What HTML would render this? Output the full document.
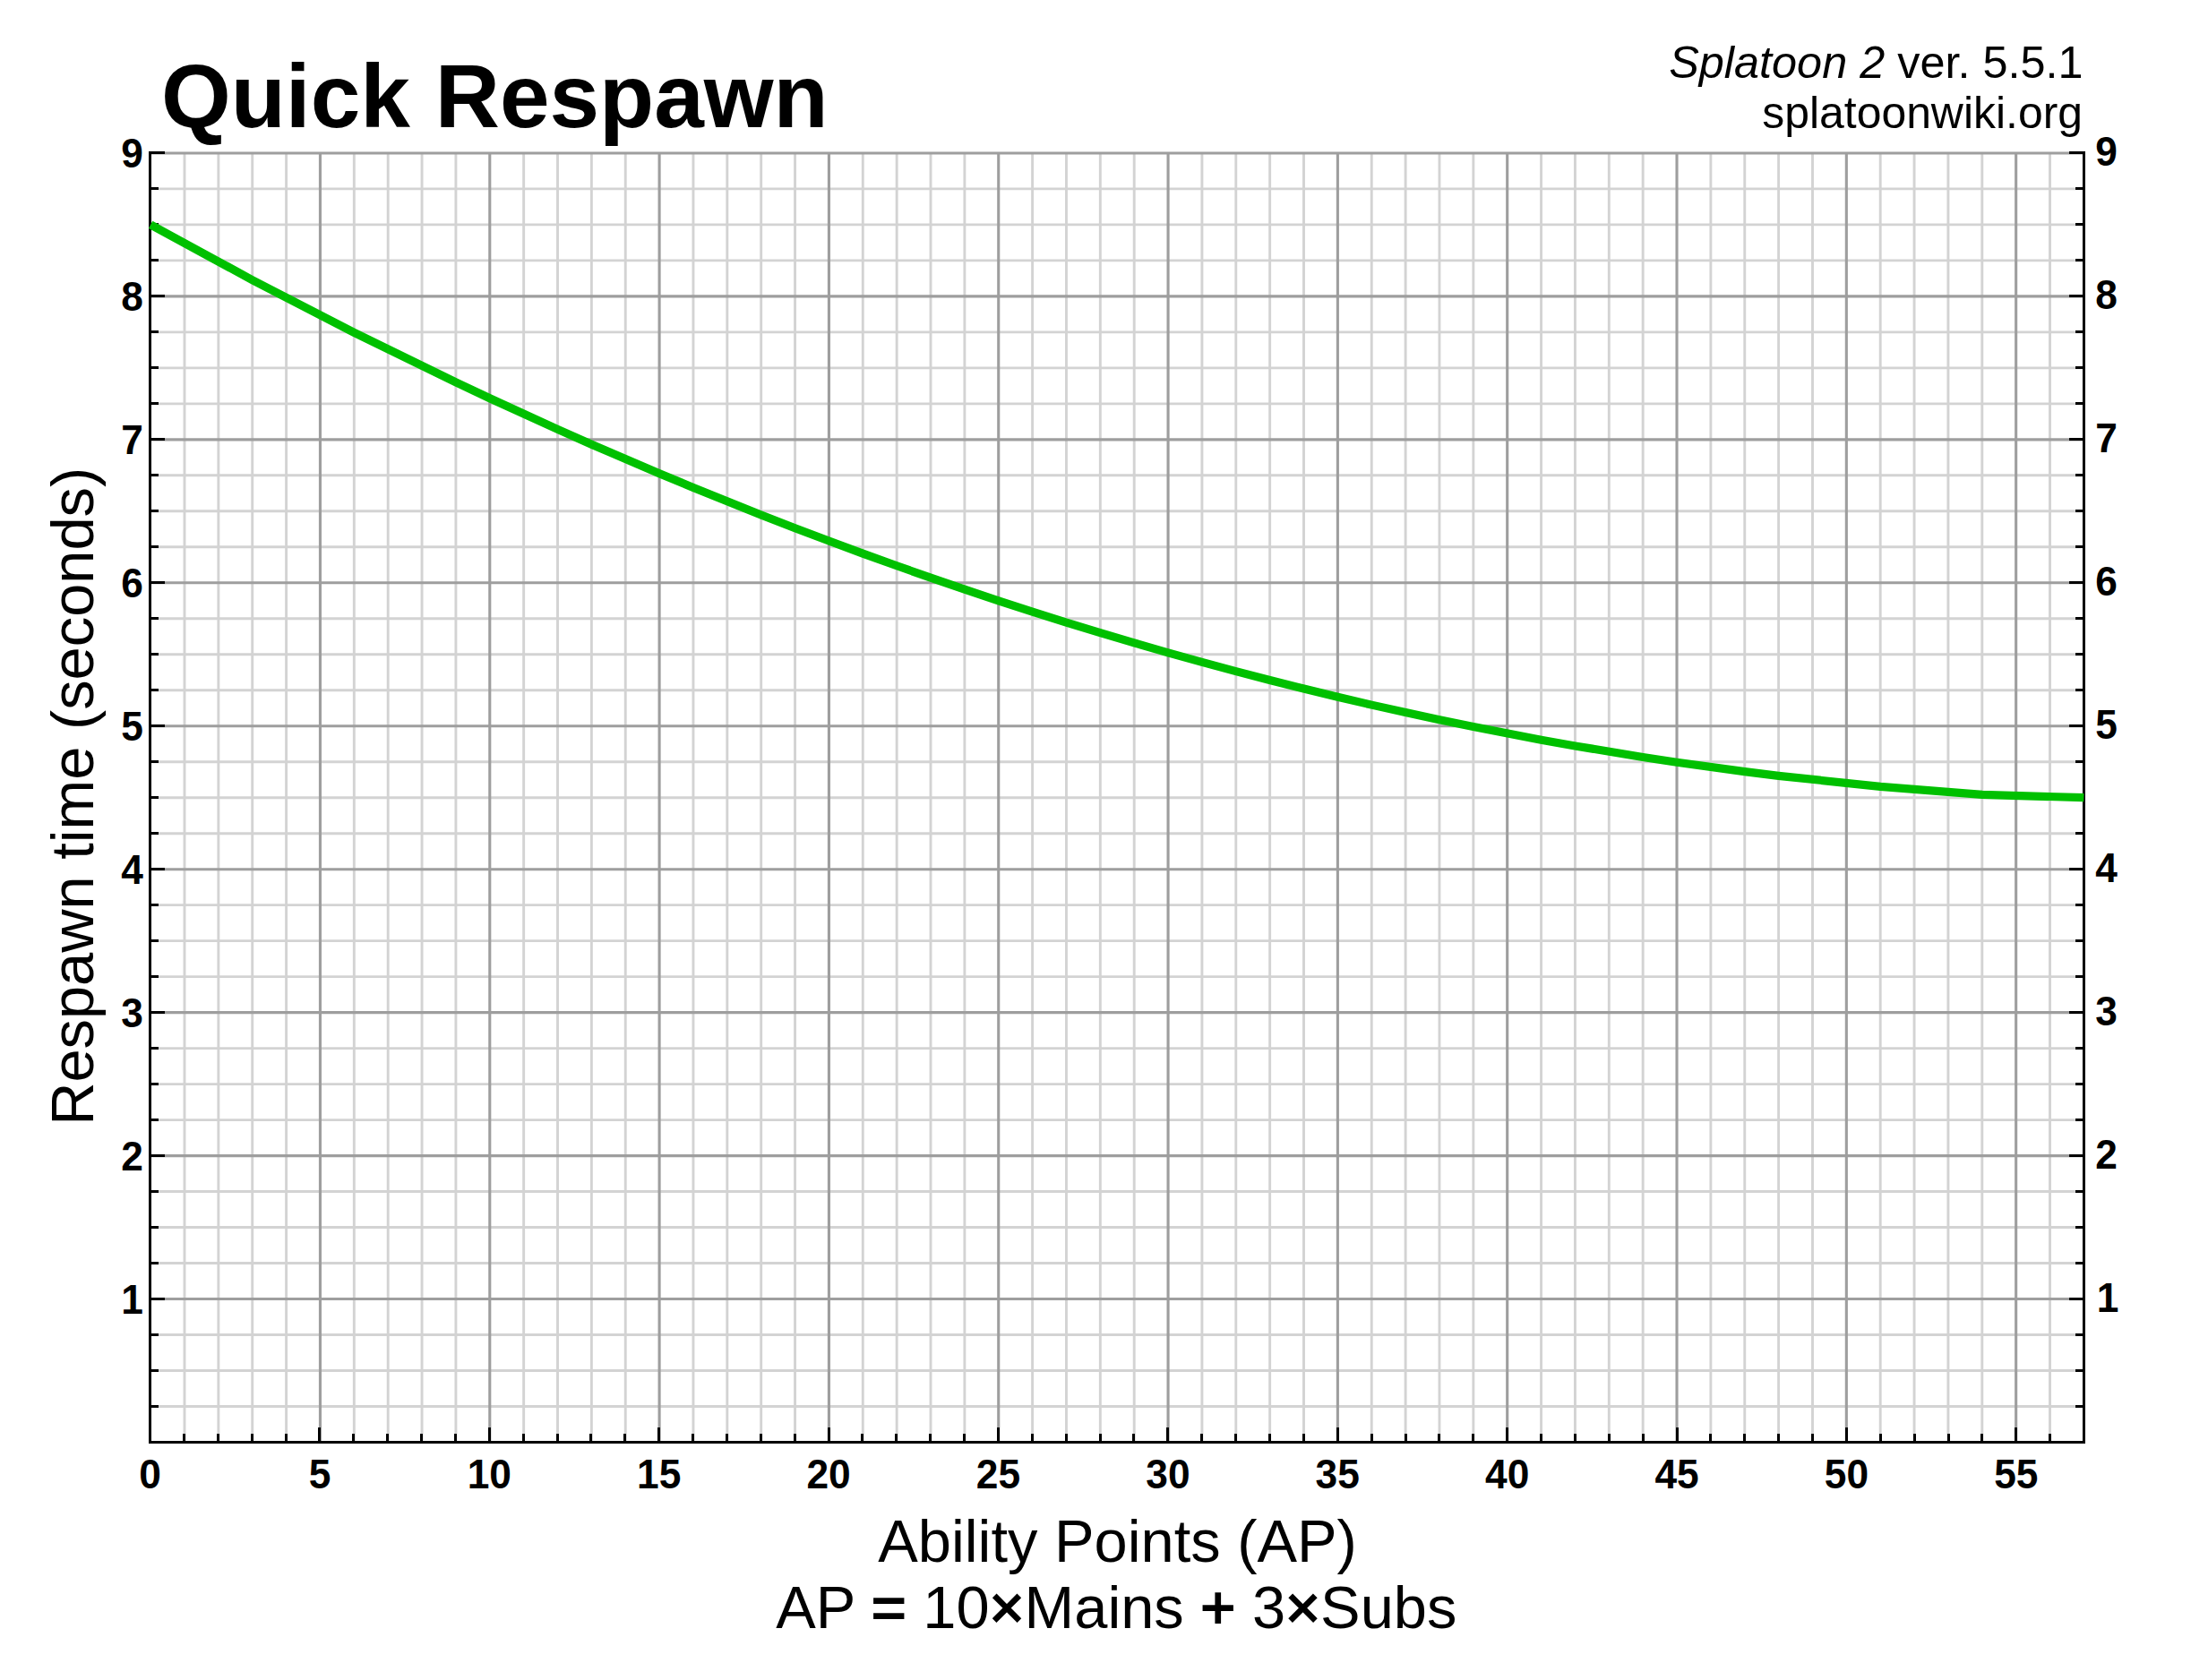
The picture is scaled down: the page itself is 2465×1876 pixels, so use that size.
<!DOCTYPE html>
<html lang="en"><head><meta charset="utf-8"><title>Quick Respawn</title>
<style>
html,body{margin:0;padding:0;background:#fff}
body{width:2465px;height:1876px;overflow:hidden}
svg{display:block}
text{font-family:"Liberation Sans",sans-serif;fill:#000}
.t{font-weight:bold;font-size:44.3px}
.l{font-size:66.8px}
.c{font-size:49.5px}
.h{stroke:#000;stroke-width:1.9px;stroke-linejoin:miter}
</style></head><body>
<svg width="2465" height="1876" viewBox="0 0 2465 1876">
<rect width="2465" height="1876" fill="#fff"/>
<path d="M206 170.5V1610.45M243.87 170.5V1610.45M281.73 170.5V1610.45M319.6 170.5V1610.45M395.32 170.5V1610.45M433.19 170.5V1610.45M471.05 170.5V1610.45M508.92 170.5V1610.45M584.64 170.5V1610.45M622.51 170.5V1610.45M660.37 170.5V1610.45M698.24 170.5V1610.45M773.96 170.5V1610.45M811.83 170.5V1610.45M849.69 170.5V1610.45M887.56 170.5V1610.45M963.28 170.5V1610.45M1001.15 170.5V1610.45M1039.01 170.5V1610.45M1076.88 170.5V1610.45M1152.6 170.5V1610.45M1190.47 170.5V1610.45M1228.33 170.5V1610.45M1266.2 170.5V1610.45M1341.92 170.5V1610.45M1379.79 170.5V1610.45M1417.65 170.5V1610.45M1455.52 170.5V1610.45M1531.24 170.5V1610.45M1569.11 170.5V1610.45M1606.97 170.5V1610.45M1644.84 170.5V1610.45M1720.56 170.5V1610.45M1758.43 170.5V1610.45M1796.29 170.5V1610.45M1834.16 170.5V1610.45M1909.88 170.5V1610.45M1947.75 170.5V1610.45M1985.61 170.5V1610.45M2023.48 170.5V1610.45M2099.2 170.5V1610.45M2137.07 170.5V1610.45M2174.93 170.5V1610.45M2212.8 170.5V1610.45M2288.52 170.5V1610.45M167.55 1570.49H2326.55M167.55 1530.51H2326.55M167.55 1490.52H2326.55M167.55 1410.54H2326.55M167.55 1370.56H2326.55M167.55 1330.57H2326.55M167.55 1250.59H2326.55M167.55 1210.61H2326.55M167.55 1170.62H2326.55M167.55 1090.64H2326.55M167.55 1050.66H2326.55M167.55 1010.67H2326.55M167.55 930.69H2326.55M167.55 890.71H2326.55M167.55 850.72H2326.55M167.55 770.74H2326.55M167.55 730.76H2326.55M167.55 690.77H2326.55M167.55 610.79H2326.55M167.55 570.81H2326.55M167.55 530.82H2326.55M167.55 450.84H2326.55M167.55 410.86H2326.55M167.55 370.87H2326.55M167.55 290.89H2326.55M167.55 250.91H2326.55M167.55 210.92H2326.55" stroke="#d3d3d3" stroke-width="2.9" fill="none"/>
<path d="M357.46 169.38V1610.45M546.78 169.38V1610.45M736.1 169.38V1610.45M925.42 169.38V1610.45M1114.74 169.38V1610.45M1304.06 169.38V1610.45M1493.38 169.38V1610.45M1682.7 169.38V1610.45M1872.02 169.38V1610.45M2061.34 169.38V1610.45M2250.66 169.38V1610.45M167.55 1450.53H2326.55M167.55 1290.58H2326.55M167.55 1130.63H2326.55M167.55 970.68H2326.55M167.55 810.73H2326.55M167.55 650.78H2326.55M167.55 490.83H2326.55M167.55 330.88H2326.55M167.55 170.93H2326.55" stroke="#9e9e9e" stroke-width="3.1" fill="none"/>
<path d="M166 169h3v1443h-3zM2325 169h3v1443h-3zM166 1609h2162v3h-2162zM204 1601h3v8h-3zM242 1601h3v8h-3zM280 1601h3v8h-3zM318 1601h3v8h-3zM355 1594h3v15h-3zM393 1601h3v8h-3zM431 1601h3v8h-3zM469 1601h3v8h-3zM507 1601h3v8h-3zM545 1594h3v15h-3zM583 1601h3v8h-3zM621 1601h3v8h-3zM658 1601h3v8h-3zM696 1601h3v8h-3zM734 1594h3v15h-3zM772 1601h3v8h-3zM810 1601h3v8h-3zM848 1601h3v8h-3zM886 1601h3v8h-3zM924 1594h3v15h-3zM961 1601h3v8h-3zM999 1601h3v8h-3zM1037 1601h3v8h-3zM1075 1601h3v8h-3zM1113 1594h3v15h-3zM1151 1601h3v8h-3zM1189 1601h3v8h-3zM1227 1601h3v8h-3zM1264 1601h3v8h-3zM1302 1594h3v15h-3zM1340 1601h3v8h-3zM1378 1601h3v8h-3zM1416 1601h3v8h-3zM1454 1601h3v8h-3zM1492 1594h3v15h-3zM1530 1601h3v8h-3zM1568 1601h3v8h-3zM1605 1601h3v8h-3zM1643 1601h3v8h-3zM1681 1594h3v15h-3zM1719 1601h3v8h-3zM1757 1601h3v8h-3zM1795 1601h3v8h-3zM1833 1601h3v8h-3zM1871 1594h3v15h-3zM1908 1601h3v8h-3zM1946 1601h3v8h-3zM1984 1601h3v8h-3zM2022 1601h3v8h-3zM2060 1594h3v15h-3zM2098 1601h3v8h-3zM2136 1601h3v8h-3zM2174 1601h3v8h-3zM2211 1601h3v8h-3zM2249 1594h3v15h-3zM2287 1601h3v8h-3zM169 1569h8v3h-8zM2317 1569h8v3h-8zM169 1529h8v3h-8zM2317 1529h8v3h-8zM169 1489h8v3h-8zM2317 1489h8v3h-8zM169 1449h15v3h-15zM2310 1449h15v3h-15zM169 1409h8v3h-8zM2317 1409h8v3h-8zM169 1369h8v3h-8zM2317 1369h8v3h-8zM169 1329h8v3h-8zM2317 1329h8v3h-8zM169 1289h15v3h-15zM2310 1289h15v3h-15zM169 1249h8v3h-8zM2317 1249h8v3h-8zM169 1209h8v3h-8zM2317 1209h8v3h-8zM169 1169h8v3h-8zM2317 1169h8v3h-8zM169 1129h15v3h-15zM2310 1129h15v3h-15zM169 1089h8v3h-8zM2317 1089h8v3h-8zM169 1049h8v3h-8zM2317 1049h8v3h-8zM169 1009h8v3h-8zM2317 1009h8v3h-8zM169 969h15v3h-15zM2310 969h15v3h-15zM169 929h8v3h-8zM2317 929h8v3h-8zM169 889h8v3h-8zM2317 889h8v3h-8zM169 849h8v3h-8zM2317 849h8v3h-8zM169 809h15v3h-15zM2310 809h15v3h-15zM169 769h8v3h-8zM2317 769h8v3h-8zM169 729h8v3h-8zM2317 729h8v3h-8zM169 689h8v3h-8zM2317 689h8v3h-8zM169 649h15v3h-15zM2310 649h15v3h-15zM169 609h8v3h-8zM2317 609h8v3h-8zM169 569h8v3h-8zM2317 569h8v3h-8zM169 529h8v3h-8zM2317 529h8v3h-8zM169 489h15v3h-15zM2310 489h15v3h-15zM169 449h8v3h-8zM2317 449h8v3h-8zM169 409h8v3h-8zM2317 409h8v3h-8zM169 369h8v3h-8zM2317 369h8v3h-8zM169 329h15v3h-15zM2310 329h15v3h-15zM169 289h8v3h-8zM2317 289h8v3h-8zM169 249h8v3h-8zM2317 249h8v3h-8zM169 209h8v3h-8zM2317 209h8v3h-8zM169 169h15v3h-15zM2310 169h15v3h-15z" fill="#000" shape-rendering="crispEdges"/>
<polyline points="168.14,250.91 281.73,312.69 395.32,371.37 508.92,426.93 546.78,444.76 622.51,479.39 660.37,496.19 736.1,528.74 773.96,544.5 849.69,574.98 887.56,589.7 925.42,604.07 963.28,618.11 1001.15,631.79 1039.01,645.13 1076.88,658.12 1114.74,670.77 1152.6,683.08 1190.47,695.03 1228.33,706.65 1266.2,717.91 1304.06,728.84 1341.92,739.41 1379.79,749.64 1417.65,759.53 1455.52,769.07 1493.38,778.26 1531.24,787.11 1569.11,795.61 1606.97,803.77 1644.84,811.58 1720.56,826.17 1758.43,832.94 1834.16,845.46 1872.02,851.2 1947.75,861.64 1985.61,866.34 2099.2,878.38 2212.8,887.3 2326.39,890.71" stroke="#00c000" stroke-width="9.2" fill="none" stroke-linejoin="round"/>
<text class="t" transform="translate(167.55 1662) scale(1 1.035)" text-anchor="middle">0</text>
<text class="t" transform="translate(356.94 1662) scale(1 1.035)" text-anchor="middle">5</text>
<text class="t" transform="translate(546.32 1662) scale(1 1.035)" text-anchor="middle">10</text>
<text class="t" transform="translate(735.71 1662) scale(1 1.035)" text-anchor="middle">15</text>
<text class="t" transform="translate(925.09 1662) scale(1 1.035)" text-anchor="middle">20</text>
<text class="t" transform="translate(1114.48 1662) scale(1 1.035)" text-anchor="middle">25</text>
<text class="t" transform="translate(1303.87 1662) scale(1 1.035)" text-anchor="middle">30</text>
<text class="t" transform="translate(1493.25 1662) scale(1 1.035)" text-anchor="middle">35</text>
<text class="t" transform="translate(1682.64 1662) scale(1 1.035)" text-anchor="middle">40</text>
<text class="t" transform="translate(1872.02 1662) scale(1 1.035)" text-anchor="middle">45</text>
<text class="t" transform="translate(2061.41 1662) scale(1 1.035)" text-anchor="middle">50</text>
<text class="t" transform="translate(2250.8 1662) scale(1 1.035)" text-anchor="middle">55</text>
<text class="t" transform="translate(160 1466.66) scale(1 1.035)" text-anchor="end">1</text>
<text class="t" transform="translate(2340.7 1465.26) scale(1 1.035)">1</text>
<text class="t" transform="translate(160 1306.66) scale(1 1.035)" text-anchor="end">2</text>
<text class="t" transform="translate(2339.2 1305.26) scale(1 1.035)">2</text>
<text class="t" transform="translate(160 1146.67) scale(1 1.035)" text-anchor="end">3</text>
<text class="t" transform="translate(2339.2 1145.27) scale(1 1.035)">3</text>
<text class="t" transform="translate(160 986.67) scale(1 1.035)" text-anchor="end">4</text>
<text class="t" transform="translate(2339.2 985.27) scale(1 1.035)">4</text>
<text class="t" transform="translate(160 826.68) scale(1 1.035)" text-anchor="end">5</text>
<text class="t" transform="translate(2339.2 825.28) scale(1 1.035)">5</text>
<text class="t" transform="translate(160 666.68) scale(1 1.035)" text-anchor="end">6</text>
<text class="t" transform="translate(2339.2 665.28) scale(1 1.035)">6</text>
<text class="t" transform="translate(160 506.69) scale(1 1.035)" text-anchor="end">7</text>
<text class="t" transform="translate(2339.2 505.29) scale(1 1.035)">7</text>
<text class="t" transform="translate(160 346.69) scale(1 1.035)" text-anchor="end">8</text>
<text class="t" transform="translate(2339.2 345.29) scale(1 1.035)">8</text>
<text class="t" transform="translate(160 186.7) scale(1 1.035)" text-anchor="end">9</text>
<text class="t" transform="translate(2339.2 185.3) scale(1 1.035)">9</text>
<text x="180" y="142.3" font-size="100" font-weight="bold">Quick Respawn</text>
<text class="c" style="font-size:50.4px" x="2325.5" y="87.2" text-anchor="end"><tspan font-style="italic">Splatoon 2</tspan> ver. 5.5.1</text>
<text class="c" style="font-size:49.9px" x="2325" y="143.2" text-anchor="end">splatoonwiki.org</text>
<text class="l" x="1247.5" y="1743.5" text-anchor="middle">Ability Points (AP)</text>
<text class="l" x="1246.3" y="1818" text-anchor="middle">AP <tspan class="h">=</tspan> 10<tspan class="h">×</tspan>Mains <tspan class="h">+</tspan> 3<tspan class="h">×</tspan>Subs</text>
<text class="l" transform="translate(103.6 889.3) rotate(-90)" text-anchor="middle">Respawn time (seconds)</text>
</svg>
</body></html>
